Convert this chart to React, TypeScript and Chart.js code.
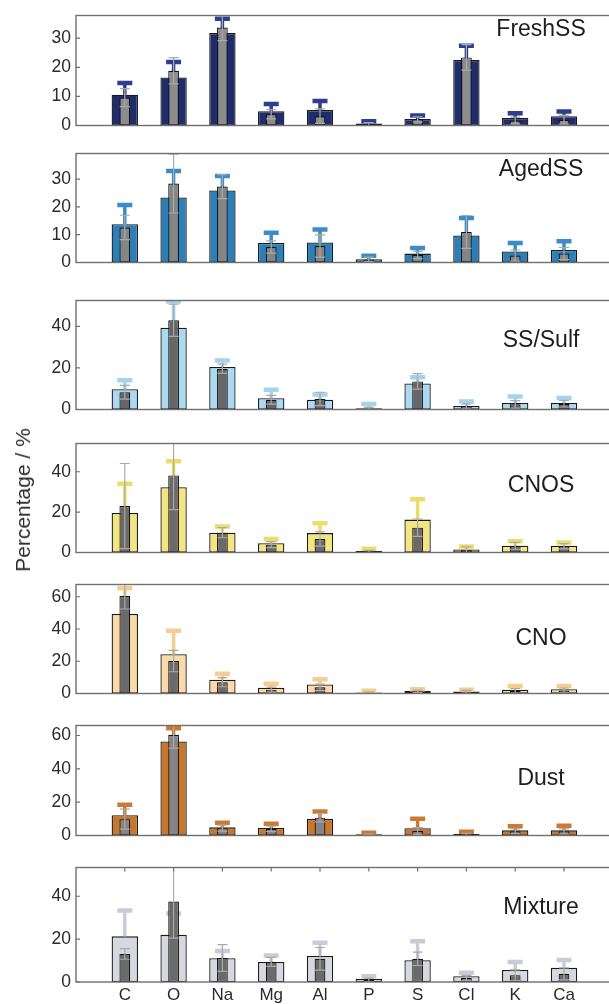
import React, { useEffect, useRef } from 'react';
import { Chart, registerables } from 'chart.js';

Chart.register(...registerables);

// ---------- data ----------
const elements = ['C', 'O', 'Na', 'Mg', 'Al', 'P', 'S', 'Cl', 'K', 'Ca'];

const freshSSMean = [10.6, 16.5, 31.8, 4.9, 5.3, 0.7, 2.2, 22.5, 2.6, 3.2];
const freshSSErr = [4.0, 5.3, 4.9, 2.5, 3.1, 0.8, 1.2, 4.9, 1.6, 1.6];
const freshSSGray = [9.6, 18.8, 33.7, 3.9, 3.2, 0.4, 2.1, 23.4, 1.7, 2.0];
const freshSSGrayErr = [3.1, 4.5, 4.5, 1.6, 2.5, 0.6, 0.9, 4.4, 1.2, 1.5];

const agedSSMean = [13.8, 23.4, 25.9, 7.0, 7.2, 1.2, 3.2, 9.7, 4.0, 4.5];
const agedSSErr = [6.9, 9.5, 5.2, 3.7, 4.7, 1.2, 2.0, 6.3, 3.0, 3.1];
const agedSSGray = [12.6, 28.4, 27.3, 5.6, 5.9, 1.1, 2.7, 11.0, 2.5, 3.2];
const agedSSGrayErr = [4.4, 10.6, 4.3, 2.2, 4.0, 0.8, 1.3, 5.9, 2.0, 2.2];

const ssSulfMean = [9.7, 39.3, 20.4, 5.4, 4.7, 0.6, 12.5, 1.7, 3.1, 3.1];
const ssSulfErr = [4.4, 12.6, 3.2, 4.1, 2.5, 2.0, 3.0, 2.2, 3.2, 2.4];
const ssSulfGray = [8.3, 42.9, 19.6, 4.7, 5.1, 0.4, 13.5, 1.5, 2.5, 2.8];
const ssSulfGrayErr = [3.3, 7.7, 2.2, 2.1, 3.2, 0.6, 3.7, 1.2, 1.8, 1.6];

const cnosMean = [19.6, 32.3, 9.8, 4.6, 9.6, 0.7, 16.3, 1.5, 3.4, 3.3];
const cnosErr = [14.5, 12.9, 3.1, 2.1, 4.9, 1.1, 10.1, 1.5, 2.2, 1.7];
const cnosGray = [23.0, 38.2, 9.8, 3.9, 6.7, 0.6, 12.3, 1.4, 3.3, 3.1];
const cnosGrayErr = [21.1, 17.0, 2.5, 1.5, 3.5, 0.5, 4.3, 1.4, 1.7, 1.3];

const cnoMean = [49.3, 24.4, 8.5, 3.6, 5.6, 0.6, 1.5, 1.3, 2.4, 2.6];
const cnoErr = [16.0, 14.5, 3.7, 2.4, 3.2, 1.1, 1.1, 1.1, 2.3, 2.1];
const cnoGray = [60.4, 20.1, 7.0, 2.4, 3.8, 0.4, 1.3, 1.1, 1.7, 1.9];
const cnoGrayErr = [8.0, 6.6, 2.8, 1.5, 2.0, 0.4, 0.8, 0.8, 1.4, 1.5];

const dustMean = [12.2, 56.4, 4.9, 4.5, 10.0, 0.7, 4.4, 0.9, 3.1, 3.1];
const dustErr = [6.3, 8.0, 2.7, 2.6, 4.4, 0.9, 5.6, 1.3, 2.4, 2.7];
const dustGray = [9.8, 60.4, 4.4, 4.0, 10.7, 0.5, 2.7, 0.7, 2.5, 2.5];
const dustGrayErr = [6.0, 8.0, 1.8, 1.6, 2.5, 0.4, 2.0, 0.6, 1.4, 1.5];

const mixtureMean = [21.3, 22.0, 11.1, 9.3, 12.1, 1.5, 10.2, 2.7, 5.6, 6.6];
const mixtureErr = [12.1, 10.0, 3.4, 3.1, 6.2, 1.2, 8.8, 1.6, 3.7, 3.7];
const mixtureGray = [13.1, 37.5, 11.2, 9.4, 10.8, 1.0, 10.8, 1.9, 3.2, 3.8];
const mixtureGrayErr = [2.5, 17.0, 6.2, 2.1, 5.3, 0.8, 3.1, 1.2, 2.5, 2.8];

const ticksTens = [0, 10, 20, 30];
const ticksTwenty40 = [0, 20, 40];
const ticksTwenty60 = [0, 20, 40, 60];

const yAxisTitle = 'Percentage / %';

// ---------- layout / style ----------
const PLOT_LEFT = 76;
const CAT_PX = 48.8;
const CANVAS_W = 660;

type PanelCfg = {
  name: string;
  mean: number[];
  err: number[];
  gray: number[];
  grayErr: number[];
  yMax: number;
  ticks: number[];
  fill: string;
  errColor: string;
  grayFill: string;
  top: number;
  bottom: number;
  titleDy: number;
};

const panels: PanelCfg[] = [
  { name: 'FreshSS', mean: freshSSMean, err: freshSSErr, gray: freshSSGray, grayErr: freshSSGrayErr, yMax: 37.8, ticks: ticksTens, fill: '#202d6c', errColor: '#2c3f8e', grayFill: '#8c8c8c', top: 10, bottom: 131, titleDy: 14 },
  { name: 'AgedSS', mean: agedSSMean, err: agedSSErr, gray: agedSSGray, grayErr: agedSSGrayErr, yMax: 39.2, ticks: ticksTens, fill: '#2b80b9', errColor: '#3a8dc5', grayFill: '#858585', top: 148, bottom: 268, titleDy: 16 },
  { name: 'SS/Sulf', mean: ssSulfMean, err: ssSulfErr, gray: ssSulfGray, grayErr: ssSulfGrayErr, yMax: 52.4, ticks: ticksTwenty40, fill: '#acd8f0', errColor: '#a6d3ec', grayFill: '#666666', top: 295, bottom: 415, titleDy: 40 },
  { name: 'CNOS', mean: cnosMean, err: cnosErr, gray: cnosGray, grayErr: cnosGrayErr, yMax: 54, ticks: ticksTwenty40, fill: '#f3e582', errColor: '#ebdc6c', grayFill: '#6a6a6a', top: 438, bottom: 558, titleDy: 42 },
  { name: 'CNO', mean: cnoMean, err: cnoErr, gray: cnoGray, grayErr: cnoGrayErr, yMax: 67.6, ticks: ticksTwenty60, fill: '#f9daa8', errColor: '#f6cc90', grayFill: '#6a6a6a', top: 579, bottom: 699, titleDy: 54 },
  { name: 'Dust', mean: dustMean, err: dustErr, gray: dustGray, grayErr: dustGrayErr, yMax: 66, ticks: ticksTwenty60, fill: '#c8762e', errColor: '#c97a33', grayFill: '#858585', top: 720, bottom: 841, titleDy: 53 },
  { name: 'Mixture', mean: mixtureMean, err: mixtureErr, gray: mixtureGray, grayErr: mixtureGrayErr, yMax: 53.4, ticks: ticksTwenty40, fill: '#d6d7e1', errColor: '#c9cbd8', grayFill: '#6a6a6a', top: 862, bottom: 982, titleDy: 40 },
];

const FONT = "'Liberation Sans', Arial, Helvetica, sans-serif";

const decoPlugin = {
  id: 'panelDeco',
  afterDatasetDraw(chart: any, args: any, opts: any) {
    const { ctx, chartArea: a, scales } = chart;
    const x = scales.x;
    const y = scales.y;
    const ds = chart.data.datasets[args.index];
    const kind = ds.kind;
    const vals: number[] = kind === 'main' ? opts.mean : opts.gray;
    const errs: number[] = kind === 'main' ? opts.err : opts.grayErr;
    ctx.save();
    ctx.beginPath();
    ctx.rect(a.left, a.top, a.right - a.left, a.bottom - a.top);
    ctx.clip();
    vals.forEach((v: number, i: number) => {
      const cx = x.getPixelForValue(i + 1);
      const yv = y.getPixelForValue(v);
      const yHi = y.getPixelForValue(v + errs[i]);
      if (kind === 'main') {
        ctx.strokeStyle = opts.errColor;
        ctx.lineWidth = 3.5;
        ctx.beginPath();
        ctx.moveTo(cx, yv);
        ctx.lineTo(cx, yHi);
        ctx.stroke();
        ctx.lineWidth = 4.5;
        ctx.beginPath();
        ctx.moveTo(cx - 7.5, yHi);
        ctx.lineTo(cx + 7.5, yHi);
        ctx.stroke();
      } else {
        const yLo = y.getPixelForValue(Math.max(0, v - errs[i]));
        ctx.strokeStyle = '#aaaaaa';
        ctx.lineWidth = 1.2;
        ctx.beginPath();
        ctx.moveTo(cx, yLo);
        ctx.lineTo(cx, yHi);
        ctx.moveTo(cx - 5, yHi);
        ctx.lineTo(cx + 5, yHi);
        ctx.moveTo(cx - 5, yLo);
        ctx.lineTo(cx + 5, yLo);
        ctx.stroke();
      }
    });
    ctx.restore();
  },
  afterDraw(chart: any, _args: any, opts: any) {
    const { ctx, chartArea: a, scales } = chart;
    const y = scales.y;
    const x = scales.x;
    ctx.save();
    ctx.strokeStyle = '#707070';
    ctx.lineWidth = 1.4;
    ctx.strokeRect(a.left, a.top, a.right - a.left, a.bottom - a.top);
    // inward y ticks
    ctx.lineWidth = 1.2;
    ctx.beginPath();
    (opts.ticks as number[]).forEach((t) => {
      const py = y.getPixelForValue(t);
      ctx.moveTo(a.left, py);
      ctx.lineTo(a.left + 4, py);
    });
    if (opts.showX) {
      elements.forEach((_e, i) => {
        const px = x.getPixelForValue(i + 1);
        ctx.moveTo(px, a.top);
        ctx.lineTo(px, a.top + 4);
      });
    }
    ctx.stroke();
    // panel title
    ctx.fillStyle = '#1e1e1e';
    ctx.font = `23px ${FONT}`;
    ctx.textAlign = 'center';
    ctx.textBaseline = 'middle';
    ctx.fillText(opts.name, x.getPixelForValue(9.53), a.top + opts.titleDy);
    ctx.restore();
  },
};

function Panel({ cfg, showX }: { cfg: PanelCfg; showX: boolean }) {
  const ref = useRef<HTMLCanvasElement | null>(null);
  const padTop = 10;
  const xAxisH = showX ? 22 : 10;
  const plotH = cfg.bottom - cfg.top;
  const canvasH = padTop + plotH + xAxisH;
  const plotRight = PLOT_LEFT + 11 * CAT_PX;

  useEffect(() => {
    if (!ref.current) return;
    const chart = new Chart(ref.current, {
      type: 'bar',
      data: {
        datasets: [
          {
            kind: 'main',
            label: cfg.name,
            data: cfg.mean.map((v, i) => ({ x: i + 1, y: v })),
            backgroundColor: cfg.fill,
            borderColor: '#1a1a1a',
            borderWidth: 1.3,
            borderSkipped: false,
            grouped: false,
            barPercentage: 0.54,
            categoryPercentage: 1,
            order: 2,
          } as any,
          {
            kind: 'gray',
            label: cfg.name + ' gray',
            data: cfg.gray.map((v, i) => ({ x: i + 1, y: v })),
            backgroundColor: cfg.grayFill,
            borderColor: '#141414',
            borderWidth: 1.2,
            borderSkipped: false,
            grouped: false,
            barPercentage: 0.22,
            categoryPercentage: 1,
            order: 1,
          } as any,
        ],
      },
      options: {
        animation: false,
        responsive: false,
        maintainAspectRatio: false,
        events: [],
        layout: { padding: { top: padTop, bottom: 0, left: 0, right: CANVAS_W - plotRight } },
        plugins: {
          legend: { display: false },
          tooltip: { enabled: false },
          title: { display: false },
          panelDeco: {
            name: cfg.name,
            mean: cfg.mean,
            err: cfg.err,
            gray: cfg.gray,
            grayErr: cfg.grayErr,
            errColor: cfg.errColor,
            ticks: cfg.ticks,
            titleDy: cfg.titleDy,
            showX,
          },
        } as any,
        scales: {
          x: {
            type: 'linear',
            min: 0,
            max: 11,
            offset: false,
            grid: { display: false, drawTicks: false },
            border: { display: false },
            afterBuildTicks: (axis: any) => {
              axis.ticks = elements.map((_e, i) => ({ value: i + 1 }));
            },
            afterFit: (axis: any) => {
              axis.height = xAxisH;
            },
            ticks: {
              display: showX,
              autoSkip: false,
              maxRotation: 0,
              padding: 3,
              color: '#2a2a2a',
              font: { family: FONT, size: 17 },
              callback: (v: any) => elements[Number(v) - 1] ?? '',
            },
          },
          y: {
            type: 'linear',
            min: 0,
            max: cfg.yMax,
            grid: { display: false, drawTicks: false },
            border: { display: false },
            afterBuildTicks: (axis: any) => {
              axis.ticks = cfg.ticks.map((t) => ({ value: t }));
            },
            afterFit: (axis: any) => {
              axis.width = PLOT_LEFT;
            },
            ticks: {
              padding: 5,
              color: '#2a2a2a',
              font: { family: FONT, size: 17.5 },
            },
          },
        },
      } as any,
      plugins: [decoPlugin],
    });
    return () => chart.destroy();
  }, [cfg, showX]);

  return (
    <canvas
      ref={ref}
      width={CANVAS_W}
      height={canvasH}
      style={{ position: 'absolute', left: 0, top: cfg.top - padTop, width: CANVAS_W, height: canvasH }}
    />
  );
}

export default function App() {
  useEffect(() => {
    document.body.style.margin = '0';
    document.body.style.background = '#ffffff';
  }, []);
  return (
    <div
      style={{
        position: 'absolute',
        left: 0,
        top: 0,
        width: 609,
        height: 1004,
        overflow: 'hidden',
        background: '#ffffff',
      }}
    >
      {panels.map((p, i) => (
        <Panel key={p.name} cfg={p} showX={i === panels.length - 1} />
      ))}
      <div
        style={{
          position: 'absolute',
          left: 23,
          top: 500,
          transform: 'translate(-50%, -50%) rotate(-90deg)',
          whiteSpace: 'nowrap',
          fontFamily: FONT,
          fontSize: 21,
          color: '#2a2a2a',
        }}
      >
        {yAxisTitle}
      </div>
    </div>
  );
}
